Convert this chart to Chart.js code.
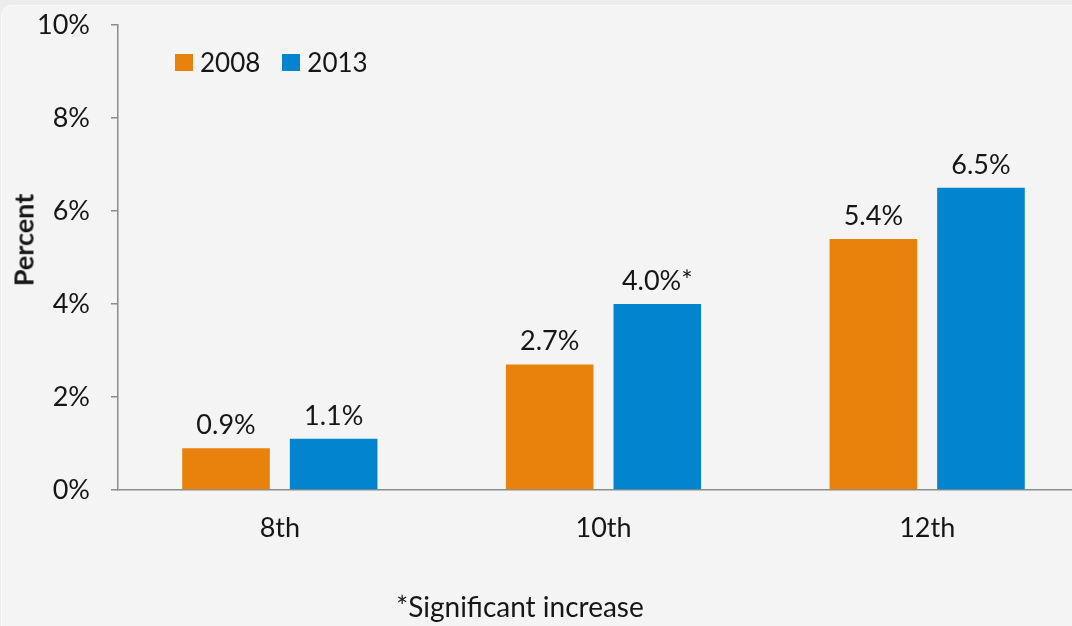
<!DOCTYPE html>
<html lang="en">
<head>
    <meta charset="UTF-8">
    <meta name="viewport" content="width=device-width, initial-scale=1.0">
    <title>Percent by Grade, 2008 and 2013</title>
    <script src="https://cdn.jsdelivr.net/npm/chart.js"></script>
    <style>
        html, body {
            margin: 0;
            padding: 0;
            width: 1072px;
            height: 626px;
            overflow: hidden;
            background: #ececec;
            font-family: Lato, sans-serif;
            color: #161616;
        }
        .panel {
            position: absolute;
            left: 1px;
            top: 5px;
            width: 1100px;
            height: 660px;
            background: #f4f4f4;
            border: 1px solid #fafafa;
            border-radius: 10px;
        }
        #chart {
            position: absolute;
            left: 0;
            top: 0;
        }
        .legend {
            position: absolute;
            left: 175px;
            top: 46px;
            display: flex;
            align-items: center;
            font-size: 26px;
        }
        .legend span.box {
            display: inline-block;
            width: 18px;
            height: 17px;
            margin-right: 7px;
        }
        .legend span.item {
            display: flex;
            align-items: center;
            margin-right: 22px;
        }
        .ytitle {
            position: absolute;
            left: 23px;
            top: 240px;
            transform: translate(-50%, -50%) rotate(-90deg);
            font-weight: bold;
            font-size: 27px;
            white-space: nowrap;
        }
        .note {
            position: absolute;
            left: 520px;
            top: 606px;
            transform: translate(-50%, -50%);
            font-size: 28px;
            white-space: nowrap;
        }
    </style>
</head>
<body>
    <div class="panel"></div>
    <canvas id="chart" width="1089" height="626"></canvas>
    <div class="legend" id="legend"></div>
    <div class="ytitle">Percent</div>
    <div class="note">*Significant increase</div>
    <script>
        const grades = ['8th', '10th', '12th'];
        const years = ['2008', '2013'];
        const values2008 = [0.9, 2.7, 5.4];
        const values2013 = [1.1, 4.0, 6.5];
        const text2008 = ['0.9%', '2.7%', '5.4%'];
        const text2013 = ['1.1%', '4.0%*', '6.5%'];
        const colors = ['#e9820c', '#0284ce'];
        const yMax = 10;
        const yStep = 2;

        // legend sits inside the plot, top left
        const legend = document.getElementById('legend');
        years.forEach((y, i) => {
            const item = document.createElement('span');
            item.className = 'item';
            item.innerHTML = '<span class="box" style="background:' + colors[i] + '"></span>' + y;
            legend.appendChild(item);
        });

        const valueLabels = {
            id: 'valueLabels',
            afterDatasetsDraw(chart) {
                const ctx = chart.ctx;
                ctx.save();
                ctx.font = '27px Lato';
                ctx.fillStyle = '#161616';
                ctx.textAlign = 'center';
                ctx.textBaseline = 'alphabetic';
                chart.data.datasets.forEach((ds, i) => {
                    chart.getDatasetMeta(i).data.forEach((bar, j) => {
                        ctx.fillText(ds.valueText[j], bar.x, bar.y - 14);
                    });
                });
                ctx.restore();
            }
        };

        function draw() {
            const ctx = document.getElementById('chart').getContext('2d');
            new Chart(ctx, {
                type: 'bar',
                data: {
                    labels: grades,
                    datasets: [
                    {
                        label: years[0],
                        data: values2008,
                        valueText: text2008,
                        backgroundColor: colors[0],
                        categoryPercentage: 0.665,
                        barPercentage: 0.814
                    },
                    {
                        label: years[1],
                        data: values2013,
                        valueText: text2013,
                        backgroundColor: colors[1],
                        categoryPercentage: 0.665,
                        barPercentage: 0.814
                    }]
                },
                options: {
                    responsive: false,
                    animation: false,
                    layout: {
                        padding: { top: 25, left: 0, right: 0, bottom: 0 }
                    },
                    plugins: {
                        legend: { display: false },
                        tooltip: { enabled: false }
                    },
                    scales: {
                        x: {
                            grid: { display: false, drawTicks: false },
                            border: { display: true, color: '#8c8c8c', width: 1.5 },
                            ticks: {
                                color: '#161616',
                                font: { family: 'Lato', size: 27 },
                                padding: 22
                            },
                            afterFit(scale) {
                                scale.height = 136;
                                scale.paddingLeft = 0;
                                scale.paddingRight = 0;
                            }
                        },
                        y: {
                            min: 0,
                            max: yMax,
                            grid: {
                                drawOnChartArea: false,
                                tickLength: 7,
                                color: '#8c8c8c',
                                lineWidth: 1.5
                            },
                            border: { display: true, color: '#8c8c8c', width: 1.5 },
                            ticks: {
                                stepSize: yStep,
                                color: '#161616',
                                font: { family: 'Lato', size: 27 },
                                padding: 21,
                                callback: v => v + '%'
                            },
                            afterFit(scale) {
                                scale.width = 118;
                                scale.paddingTop = 0;
                                scale.paddingBottom = 0;
                            }
                        }
                    }
                },
                plugins: [valueLabels]
            });
        }

        document.fonts.load('27px Lato').then(draw, draw);
    </script>
</body>
</html>
